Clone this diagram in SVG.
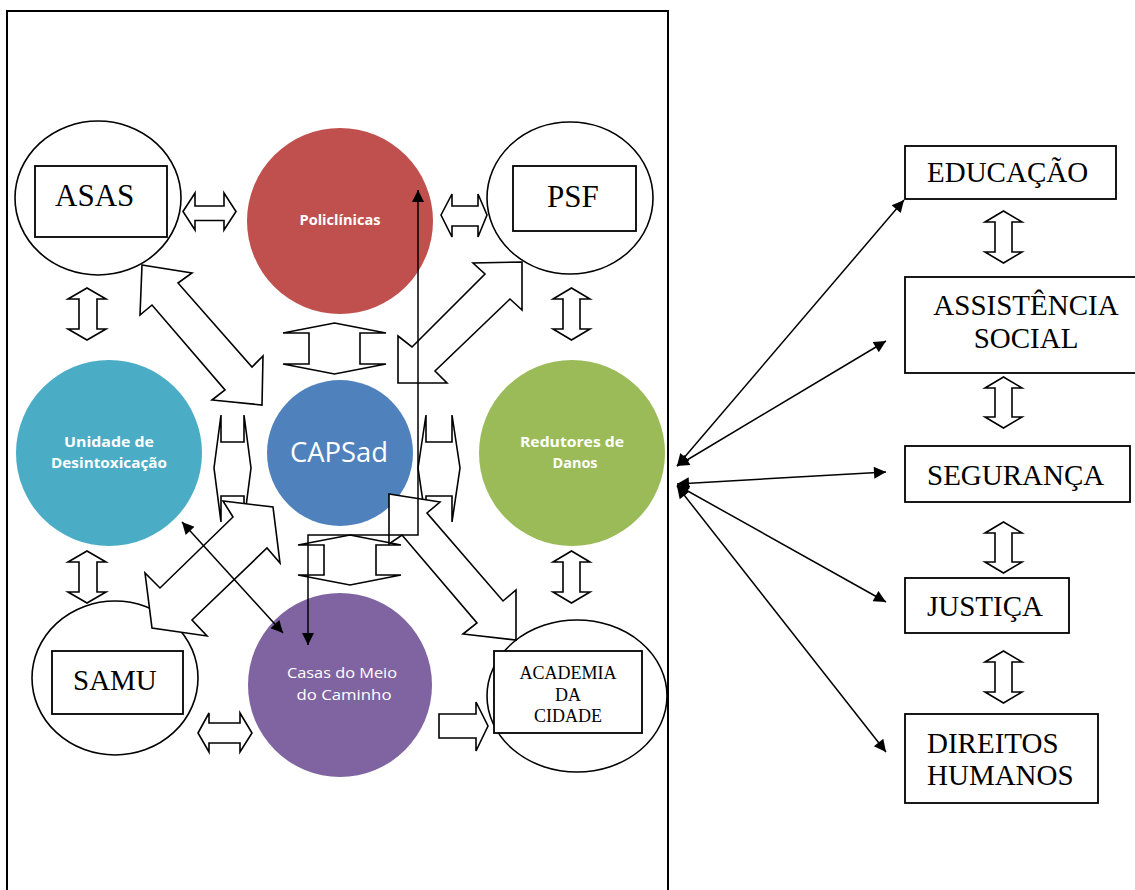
<svg xmlns="http://www.w3.org/2000/svg" width="1135" height="890" viewBox="0 0 1135 890">
  <style>
    .frame { fill: none; stroke: #000; stroke-width: 2; }
    .ring { fill: #fff; stroke: #000; stroke-width: 1.6; }
    .box { fill: #fff; stroke: #000; stroke-width: 1.8; }
    .blk { fill: #fff; stroke: #000; stroke-width: 1.6; stroke-linejoin: miter; }
    .ser { font-family: "Liberation Serif", "Times New Roman", serif; fill: #000; }
    .sans { font-family: "Open Sans", "Noto Sans", sans-serif; fill: #fff; }
    .link { fill: none; stroke: #000; stroke-width: 1.5; marker-start: url(#ah); marker-end: url(#ah); }
  </style>
  <defs>
    <marker id="ah" viewBox="0 0 10 10" refX="10" refY="5" markerUnits="userSpaceOnUse" markerWidth="16" markerHeight="12" orient="auto-start-reverse">
      <path d="M0,0 L10,5 L0,10 Z" fill="#000"/>
    </marker>
  </defs>

  <rect width="1135" height="890" fill="#fff"/>
  <rect class="frame" x="7" y="11" width="661" height="900"/>

  <!-- coloured service circles -->
  <g id="policlinicas">
    <circle cx="340" cy="221" r="93" fill="#C0504D"/>
    <text class="sans" x="340" y="225" font-size="14" font-weight="bold" text-anchor="middle" textLength="81" lengthAdjust="spacingAndGlyphs">Policlínicas</text>
  </g>
  <g id="capsad">
    <circle cx="340" cy="453" r="73" fill="#4F81BD"/>
    <text class="sans" x="339" y="462" font-size="28" text-anchor="middle" textLength="98" lengthAdjust="spacingAndGlyphs">CAPSad</text>
  </g>
  <g id="unidade">
    <circle cx="109" cy="453" r="93" fill="#4BACC6"/>
    <text class="sans" x="109" y="447" font-size="15" font-weight="bold" text-anchor="middle" textLength="90" lengthAdjust="spacingAndGlyphs">Unidade de</text>
    <text class="sans" x="109" y="468" font-size="15" font-weight="bold" text-anchor="middle" textLength="116" lengthAdjust="spacingAndGlyphs">Desintoxicação</text>
  </g>
  <g id="redutores">
    <circle cx="572" cy="453" r="93" fill="#9BBB59"/>
    <text class="sans" x="572" y="447" font-size="15" font-weight="bold" text-anchor="middle" textLength="104" lengthAdjust="spacingAndGlyphs">Redutores de</text>
    <text class="sans" x="575" y="468" font-size="15" font-weight="bold" text-anchor="middle" textLength="45" lengthAdjust="spacingAndGlyphs">Danos</text>
  </g>
  <g id="casas">
    <circle cx="340" cy="685" r="92" fill="#8064A2"/>
    <text class="sans" x="342" y="678" font-size="15" text-anchor="middle" textLength="110" lengthAdjust="spacingAndGlyphs">Casas do Meio</text>
    <text class="sans" x="344" y="700" font-size="15" text-anchor="middle" textLength="95" lengthAdjust="spacingAndGlyphs">do Caminho</text>
  </g>

  <!-- outlined partner nodes -->
  <g id="asas">
    <ellipse class="ring" cx="98" cy="198" rx="83" ry="77"/>
    <rect class="box" x="35" y="166" width="132" height="71"/>
    <text class="ser" x="55" y="206" font-size="31">ASAS</text>
  </g>
  <g id="psf">
    <ellipse class="ring" cx="570" cy="198" rx="83" ry="76"/>
    <rect class="box" x="513" y="166" width="123" height="65"/>
    <text class="ser" x="547" y="207" font-size="31">PSF</text>
  </g>
  <g id="samu">
    <ellipse class="ring" cx="115" cy="678" rx="83" ry="77"/>
    <rect class="box" x="52" y="651" width="131" height="63"/>
    <text class="ser" x="73" y="690" font-size="29">SAMU</text>
  </g>
  <g id="academia">
    <ellipse class="ring" cx="577" cy="696" rx="90" ry="76"/>
    <rect class="box" x="494" y="651" width="148" height="82"/>
    <text class="ser" x="568" y="679" font-size="18" text-anchor="middle">ACADEMIA</text>
    <text class="ser" x="568" y="701" font-size="18" text-anchor="middle">DA</text>
    <text class="ser" x="568" y="722" font-size="18" text-anchor="middle">CIDADE</text>
  </g>

  <!-- intersectoral boxes -->
  <g id="educacao">
    <rect class="box" x="905" y="146" width="211" height="53"/>
    <text class="ser" x="927" y="182" font-size="29">EDUCAÇÃO</text>
  </g>
  <g id="assistencia">
    <rect class="box" x="905" y="277" width="232" height="96"/>
    <text class="ser" x="1026" y="315" font-size="29" text-anchor="middle">ASSISTÊNCIA</text>
    <text class="ser" x="1026" y="348" font-size="29" text-anchor="middle">SOCIAL</text>
  </g>
  <g id="seguranca">
    <rect class="box" x="905" y="446" width="225" height="56"/>
    <text class="ser" x="927" y="485" font-size="29">SEGURANÇA</text>
  </g>
  <g id="justica">
    <rect class="box" x="905" y="578" width="164" height="55"/>
    <text class="ser" x="927" y="616" font-size="29">JUSTIÇA</text>
  </g>
  <g id="direitos">
    <rect class="box" x="905" y="714" width="193" height="89"/>
    <text class="ser" x="927" y="753" font-size="29">DIREITOS</text>
    <text class="ser" x="927" y="785" font-size="29">HUMANOS</text>
  </g>

  <!-- connectors -->
  <g id="connectors">
    <!-- block arrows, left panel -->
    <path class="blk" d="M183,211.5 L195,193 L195,206 L224,206 L224,193 L236,211.5 L224,230 L224,220.5 L195,220.5 L195,230 Z"/>
    <path class="blk" d="M441,215 L452,194 L452,206 L478,206 L478,194 L487,215 L478,237 L478,226 L452,226 L452,237 Z"/>
    <path class="blk" d="M198,733 L209,713 L209,723 L240,723 L240,713 L252,733 L240,752 L240,743 L209,743 L209,752 Z"/>
    <path class="blk" d="M439,714 L476,714 L476,702 L488,726 L476,751 L476,738 L439,738 Z"/>
    <path class="blk" d="M87,288 L106,299 L97,299 L97,329 L106,329 L87,340 L68,329 L79,329 L79,299 L68,299 Z"/>
    <path class="blk" d="M87,551 L106,562 L97,562 L97,592 L106,592 L87,603 L68,592 L79,592 L79,562 L68,562 Z"/>
    <path class="blk" d="M571.5,288 L590,299 L580,299 L580,329 L590,329 L571.5,340 L553,329 L563,329 L563,299 L553,299 Z"/>
    <path class="blk" d="M571.5,551 L590,562 L580,562 L580,592 L590,592 L571.5,603 L553,592 L563,592 L563,562 L553,562 Z"/>
    <path class="blk" d="M334.5,323 L386,333 L360,333 L360,364 L386,364 L334.5,374 L283,364 L309,364 L309,333 L283,333 Z"/>
    <path class="blk" d="M350,535 L401,545 L376,545 L376,575 L401,575 L350,585 L298,575 L324,575 L324,545 L298,545 Z"/>
    <path class="blk" d="M214,468 L221,415 L221,442 L244,442 L244,415 L251,468 L244,522 L244,496 L221,496 L221,522 Z"/>
    <path class="blk" d="M418,468 L426,415 L426,442 L452,442 L452,415 L460,468 L452,522 L452,496 L426,496 L426,522 Z"/>
    <!-- diagonal block arrows -->
    <path class="blk" d="M142,265 L192,273 L178,283 L252,367 L263,356 L262,405 L212,400 L225,390 L152,305 L140,315 Z"/>
    <path class="blk" d="M522,262 L473,263 L485,274 L412,347 L398,336 L398,383 L447,383 L435,371 L510,299 L522,310 Z"/>
    <path class="blk" d="M273,507 L280,563 L267,548 L192,620 L207,636 L152,628 L145,573 L160,588 L233,517 L223,501 Z"/>
    <path class="blk" d="M389,494 L440,502 L427,513 L503,601 L516,590 L516,640 L463,634 L477,623 L402,535 L389,544 Z"/>

    <!-- thin double-headed links, left panel -->
    <line class="link" x1="182" y1="522" x2="283" y2="633"/>
    <polyline class="link" points="308,645 308,535 418,535 418,190"/>

    <!-- block arrows between intersectoral boxes -->
    <path class="blk" d="M1003.5,211 L1022,222 L1012,222 L1012,252 L1022,252 L1003.5,263 L985,252 L995,252 L995,222 L985,222 Z"/>
    <path class="blk" d="M1003.5,377 L1022,388 L1012,388 L1012,417 L1022,417 L1003.5,428 L985,417 L995,417 L995,388 L985,388 Z"/>
    <path class="blk" d="M1003.5,522 L1022,533 L1012,533 L1012,562 L1022,562 L1003.5,573 L985,562 L995,562 L995,533 L985,533 Z"/>
    <path class="blk" d="M1003.5,651 L1022,662 L1012,662 L1012,692 L1022,692 L1003.5,703 L985,692 L995,692 L995,662 L985,662 Z"/>

    <!-- links from the network to each sector -->
    <line class="link" x1="677" y1="466" x2="904" y2="200"/>
    <line class="link" x1="677" y1="466" x2="886" y2="341"/>
    <line class="link" x1="677" y1="484" x2="886" y2="472"/>
    <line class="link" x1="677" y1="485" x2="886" y2="602"/>
    <line class="link" x1="677" y1="486" x2="886" y2="752"/>
  </g>
</svg>
